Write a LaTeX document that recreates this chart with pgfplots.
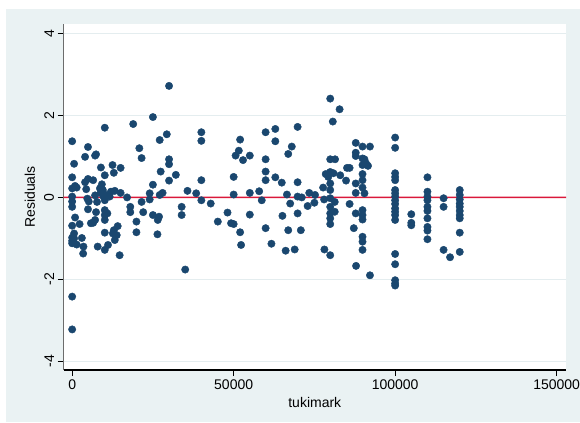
\documentclass[border=0pt]{standalone}
\usepackage{fontspec}
\setmainfont{Liberation Sans}
\usepackage{pgfplots}
\pgfplotsset{compat=1.18}
\definecolor{bg}{RGB}{234,242,243}
\definecolor{navy}{RGB}{26,71,111}
\definecolor{gridc}{RGB}{228,237,239}
\begin{document}
\begin{tikzpicture}
\path[use as bounding box] (0,0) rectangle (580bp,423bp);
\fill[white] (0,0) rectangle (580bp,423bp);
\fill[bg] (6bp,1bp) rectangle (580bp,414bp);
\begin{axis}[
  at={(63.6bp,53bp)}, anchor=south west,
  scale only axis, width=502.4bp, height=346bp,
  xmin=-2650, xmax=152900, ymin=-4.21, ymax=4.23,
  axis background/.style={fill=white},
  axis x line*=bottom, axis y line*=left,
  x axis line style={-, black, line width=1.1bp},
  y axis line style={-, gray!85!black, line width=1.4bp},
  tick pos=left,
  scaled x ticks=false, scaled y ticks=false,
  xtick={0,50000,100000,150000}, xticklabels={0,50000,100000,150000},
  ytick={-4,-2,0,2,4}, yticklabels={-4,-2,0,2,4},
  tick align=outside, major tick length=6bp,
  tick style={black, line width=0.8bp},
  ymajorgrids, grid style={gridc, line width=0.9bp},
  /pgf/number format/assume math mode=true,
  every tick label/.append style={font=\fontsize{14bp}{16bp}\selectfont},
  yticklabel style={rotate=90, anchor=south},
  label style={font=\fontsize{14bp}{16bp}\selectfont},
  xlabel={tukimark}, ylabel={Residuals},
  x label style={at={(axis description cs:0.5,-0.0925)}, anchor=center},
  y label style={at={(axis description cs:-0.067,0.5)}, anchor=center},
]
\addplot[draw=none, fill={rgb,255:red,218;green,24;blue,58}, mark=none, forget plot] coordinates {(-2650,-0.02) (152900,-0.02) (152900,0.02) (-2650,0.02) (-2650,-0.02)};
\addplot[only marks, mark=*, mark size=3.7bp, navy, mark options={draw=navy, fill=navy}] table {
x y
0 1.37
0 0.49
0 0.22
0 0.02
0 -0.10
0 -0.23
0 -0.69
0 -0.98
0 -1.06
0 -1.12
0 -2.42
0 -3.22
600 0.82
600 -0.88
900 0.28
1400 0.24
900 -0.49
1400 -1.15
600 -1.00
2300 -0.65
3000 -0.99
3500 -1.20
3400 -1.37
4000 0.99
4000 0.37
4350 0.20
4900 1.23
4900 0.45
4700 -0.03
5150 -0.10
4900 -0.29
5800 -0.63
6500 0.42
6500 -0.62
7100 1.02
7400 1.05
7100 0.05
7700 -0.11
7100 -0.55
7400 -0.36
7900 -1.20
8900 0.73
8600 0.22
9200 0.32
9500 0.18
8800 0.11
9700 0.02
10100 1.70
10100 0.54
10100 -0.07
10100 -0.31
10100 -0.43
10100 -0.55
10100 -0.86
10100 -1.28
10600 0.06
10900 -0.39
11100 -1.16
11600 0.02
12000 0.14
12500 0.79
12900 0.60
13200 0.16
12600 -0.88
12900 -0.80
13200 -1.04
13800 -0.92
14100 -0.70
14700 -1.41
15000 0.72
15000 0.11
17000 0.00
18000 -0.23
18000 -0.36
18900 1.79
19900 -0.59
19900 -0.85
20800 1.20
21500 0.96
21500 -0.11
22000 -0.36
24000 0.10
24000 -0.05
25000 1.96
25000 0.31
25000 -0.43
27100 1.40
26500 -0.55
26900 -0.47
26400 -0.90
27400 0.63
27100 0.06
28000 0.11
29300 1.54
30000 2.72
30000 0.93
30000 0.81
30000 0.41
32100 0.55
33900 -0.23
33900 -0.43
35000 -1.76
35700 0.16
38400 0.10
40000 1.59
40000 1.38
40000 0.42
40000 -0.07
42900 -0.15
45100 -0.59
48100 -0.37
49200 -0.63
50000 -0.65
50000 0.50
50000 0.07
50600 1.02
51600 1.14
52000 1.41
52000 -0.85
52300 -1.16
52900 0.91
55000 1.02
55000 0.11
55000 -0.42
57900 0.15
58700 -0.07
59900 1.59
59900 0.93
59900 0.63
59900 0.42
59900 -0.75
61700 -1.13
62900 1.67
62900 1.37
62900 0.49
64900 0.36
65100 -0.45
66100 -1.30
66500 0.07
66900 1.06
67500 -0.15
66900 -0.80
68000 1.24
68900 -1.27
69800 1.72
69800 0.37
69800 0.02
69800 -0.39
70800 -0.80
71100 0.00
72900 -0.21
73400 0.11
75000 -0.13
75200 0.06
77700 0.24
78000 -0.05
78100 -1.27
78500 0.57
79900 2.41
79900 0.93
79900 0.62
79900 0.34
79900 0.18
79900 -0.02
79900 -0.23
79900 -0.39
79900 -0.51
79900 -0.65
79900 -1.41
79300 0.50
80700 1.85
80900 0.59
81400 0.93
81300 -0.11
81300 -0.35
82800 2.15
83000 0.54
84800 0.41
85100 0.72
85900 0.72
85900 -0.16
87200 -0.75
87800 1.33
87800 1.09
87800 1.01
87800 0.34
87800 0.11
87800 -0.39
87900 -1.67
89900 1.24
89900 0.95
89900 0.79
89900 0.57
89900 0.42
89900 0.24
89900 -0.31
89900 -0.43
89900 -0.54
89900 -0.96
89900 -1.08
89900 -1.28
90500 0.93
90500 0.10
91000 0.83
91600 0.77
92200 1.24
92200 -1.90
100000 1.46
100000 1.21
100000 0.59
100000 0.50
100000 0.42
100000 0.18
100000 0.10
100000 0.02
100000 -0.07
100000 -0.16
100000 -0.27
100000 -0.35
100000 -0.43
100000 -0.55
100000 -1.38
100000 -1.63
100000 -2.02
100000 -2.10
100000 -2.15
105000 -0.41
105000 -0.62
105000 -0.68
110000 0.49
110000 0.14
110000 0.02
110000 -0.07
110000 -0.23
110000 -0.33
110000 -0.51
110000 -0.72
110000 -0.81
110000 -1.02
115000 -0.02
115000 -0.23
115000 -1.28
117000 -1.46
120000 0.18
120000 0.06
120000 -0.05
120000 -0.15
120000 -0.23
120000 -0.33
120000 -0.43
120000 -0.51
120000 -0.86
120000 -1.33
};
\end{axis}
\end{tikzpicture}
\end{document}
